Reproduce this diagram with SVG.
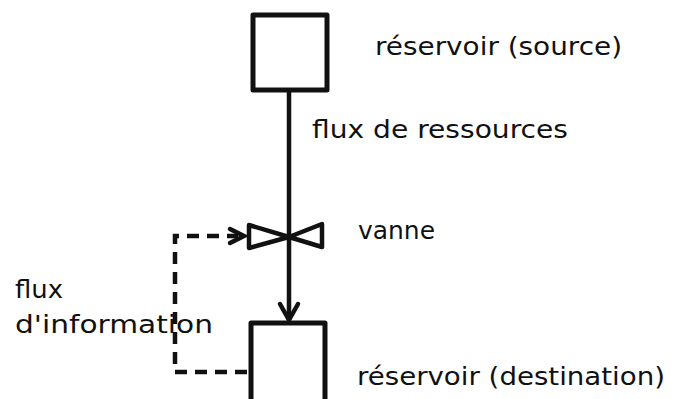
<svg xmlns="http://www.w3.org/2000/svg" width="674" height="399" viewBox="0 0 674 399">
<style>
.box{fill:#fff;stroke:#111;stroke-width:5;stroke-linejoin:round}
.flow{fill:none;stroke:#111;stroke-width:4.5}
.dash{fill:none;stroke:#111;stroke-width:4.5;stroke-dasharray:12 8}
.head{fill:none;stroke:#111;stroke-width:4.5;stroke-linejoin:miter;stroke-linecap:round}
.valve{fill:#fff;stroke:#111;stroke-width:4.5;stroke-linejoin:round}
text{font-family:"DejaVu Sans","Liberation Sans",sans-serif;font-size:24px;fill:#111}
</style>
<rect width="674" height="399" fill="#fff"/>
<g id="connectors">
<line class="flow" x1="289" y1="90" x2="289" y2="320"/>
<polyline class="head" points="280,304 289,320 298,304"/>
<polyline class="dash" points="247,372 175,372 175,236 238,236"/>
<polyline class="head" points="230,229 244,236 230,243"/>
</g>
<g id="source">
<rect class="box" x="253" y="15" width="74" height="75"/>
<text x="375" y="55" textLength="247" lengthAdjust="spacingAndGlyphs">réservoir (source)</text>
</g>
<g id="destination">
<rect class="box" x="251" y="323" width="74" height="90"/>
<text x="357" y="385" textLength="308" lengthAdjust="spacingAndGlyphs">réservoir (destination)</text>
</g>
<g id="vanne">
<polygon class="valve" points="249,225 289,237 249,248"/>
<polygon class="valve" points="322,224 289,237 322,247"/>
<text x="358" y="239" textLength="77" lengthAdjust="spacingAndGlyphs">vanne</text>
</g>
<g id="labels">
<text x="312" y="138" textLength="256" lengthAdjust="spacingAndGlyphs">flux de ressources</text>
<text x="15" y="298" textLength="48" lengthAdjust="spacingAndGlyphs">flux</text>
<text x="15" y="333" textLength="198" lengthAdjust="spacingAndGlyphs">d'information</text>
</g>
</svg>
